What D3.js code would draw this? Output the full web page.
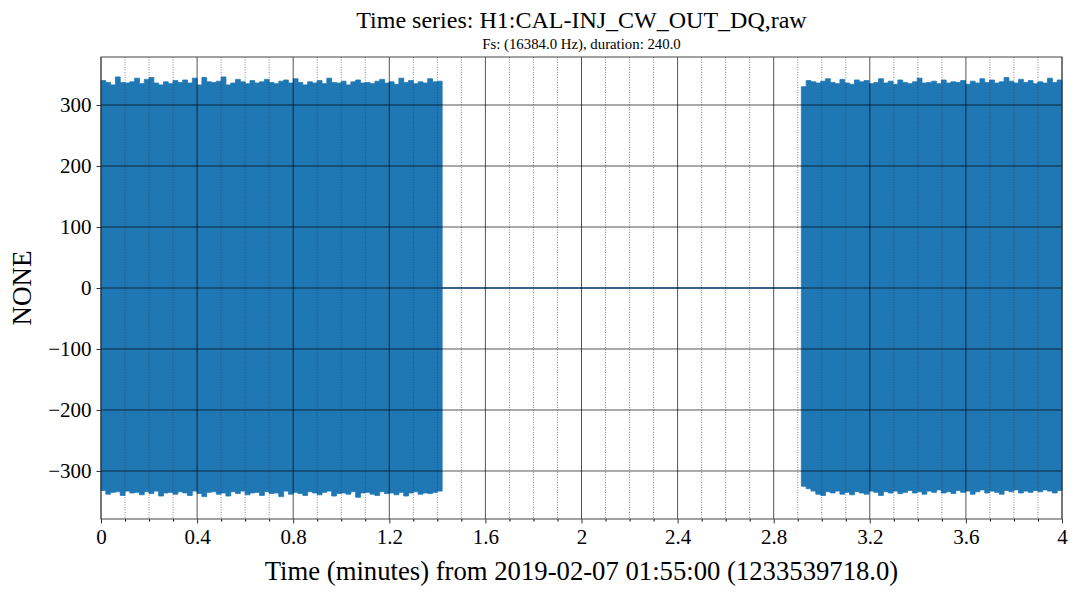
<!DOCTYPE html>
<html><head><meta charset="utf-8">
<script src="https://cdn.jsdelivr.net/npm/d3@7"></script>
<style>body{margin:0;background:#fff}svg{display:block}text{font-family:"Liberation Serif","DejaVu Serif",serif;fill:#000}</style>
</head><body><svg id="c" width="1077" height="594"></svg>
<script>
const titleText = "Time series: H1:CAL-INJ_CW_OUT_DQ,raw";
const subtitleText = "Fs: (16384.0 Hz), duration: 240.0";
const xLabelText = "Time (minutes) from 2019-02-07 01:55:00 (1233539718.0)";
const yLabelText = "NONE";
const xTicks = [0,0.4,0.8,1.2,1.6,2,2.4,2.8,3.2,3.6,4];
const xTickLabels = ["0","0.4","0.8","1.2","1.6","2","2.4","2.8","3.2","3.6","4"];
const xMinorTicks = [0.1,0.2,0.3,0.5,0.6,0.7,0.9,1.0,1.1,1.3,1.4,1.5,1.7,1.8,1.9,2.1,2.2,2.3,2.5,2.6,2.7,2.9,3.0,3.1,3.3,3.4,3.5,3.7,3.8,3.9];
const yTicks = [-300,-200,-100,0,100,200,300];
const yTickLabels = ["\u2212300","\u2212200","\u2212100","0","100","200","300"];
const xDomain = [0,4];
const yDomain = [-378.7,378.7];
// segments (minutes)
const seg1 = [0, 1.42];
const seg2 = [2.915, 4.0];
const gapValue = 0;
const seg1Upper = [340,337,333,346,337,336,338,344,335,342,345,336,333,338,335,340,337,341,336,344,333,345,338,337,339,346,333,336,342,338,335,340,336,338,342,337,335,339,341,336,343,337,333,338,336,340,335,344,337,336,339,333,338,341,336,337,335,339,342,336,338,334,344,337,340,335,338,336,343,338,339,330];
const seg1Lower = [-332,-338,-335,-334,-340,-333,-336,-335,-339,-334,-337,-333,-341,-336,-335,-338,-334,-336,-340,-333,-337,-342,-335,-334,-338,-336,-341,-334,-337,-333,-339,-336,-335,-340,-334,-337,-336,-342,-333,-338,-335,-337,-340,-334,-336,-339,-335,-333,-341,-337,-336,-338,-334,-343,-336,-335,-338,-340,-334,-337,-336,-339,-335,-341,-336,-334,-338,-336,-337,-335,-333,-328];
const seg2Upper = [330,340,338,336,339,343,337,335,342,336,334,341,338,340,335,337,343,336,339,334,341,337,335,338,344,336,337,339,335,341,336,338,337,340,334,339,336,343,337,341,336,338,345,339,336,342,337,340,335,338,336,344,337,341,338];
const seg2Lower = [-325,-329,-333,-338,-340,-334,-336,-333,-338,-335,-339,-334,-336,-338,-333,-335,-340,-334,-336,-333,-337,-335,-332,-336,-334,-338,-333,-335,-331,-336,-334,-337,-332,-335,-333,-338,-334,-331,-336,-333,-335,-338,-332,-334,-331,-336,-333,-335,-332,-334,-331,-333,-336,-332,-330];

const L=101,R=1062,T=57,B=519;
const svg=d3.select("#c");
const x=d3.scaleLinear().domain(xDomain).range([L,R]);
const y=d3.scaleLinear().domain(yDomain).range([B,T]);
const blue="#1f77b4";

function segData(seg, up, lo){
  const n=up.length, dt=(seg[1]-seg[0])/(n-1);
  return up.map((u,i)=>({t:seg[0]+i*dt,u:u,l:lo[i]}));
}
const area=d3.area().x(d=>x(d.t)).y0(d=>y(d.l)).y1(d=>y(d.u)).curve(d3.curveStepAfter);
const g=svg.append("g");
[[seg1,seg1Upper,seg1Lower],[seg2,seg2Upper,seg2Lower]].forEach(([s,u,l])=>{
  g.append("path").datum(segData(s,u,l)).attr("d",area).attr("fill",blue).attr("stroke",blue).attr("stroke-width",0.8);
});
g.append("path").datum([seg1[1],seg2[0]]).attr("d",d3.line().x(d=>x(d)).y(()=>y(gapValue))).attr("stroke",blue).attr("stroke-width",1.6).attr("fill","none");

// grid on top
const grid=svg.append("g");
grid.selectAll(".mx").data(xMinorTicks).join("line").attr("x1",d=>x(d)).attr("x2",d=>x(d)).attr("y1",T).attr("y2",B)
  .attr("stroke","#333").attr("stroke-width",0.7).attr("stroke-dasharray","1,1.5").attr("stroke-opacity",0.85);
grid.selectAll(".Mx").data(xTicks).join("line").attr("x1",d=>x(d)).attr("x2",d=>x(d)).attr("y1",T).attr("y2",B)
  .attr("stroke","#000").attr("stroke-width",0.8).attr("stroke-opacity",0.85);
grid.selectAll(".My").data(yTicks).join("line").attr("y1",d=>y(d)).attr("y2",d=>y(d)).attr("x1",L).attr("x2",R)
  .attr("stroke","#000").attr("stroke-width",0.8).attr("stroke-opacity",0.85);

// axes
const xAxis=d3.axisBottom(x).tickValues(xTicks).tickFormat((d,i)=>xTickLabels[i]).tickSize(4.5).tickPadding(6).tickSizeOuter(0);
const xMinorAxis=d3.axisBottom(x).tickValues(xMinorTicks).tickFormat("").tickSize(2.5).tickSizeOuter(0);
const yAxis=d3.axisLeft(y).tickValues(yTicks).tickFormat((d,i)=>yTickLabels[i]).tickSize(4.5).tickPadding(5).tickSizeOuter(0);
const ax=svg.append("g").attr("transform",`translate(0,${B})`).call(xAxis);
svg.append("g").attr("transform",`translate(0,${B})`).call(xMinorAxis).select(".domain").remove();
const ay=svg.append("g").attr("transform",`translate(${L},0)`).call(yAxis);
[ax,ay].forEach(a=>{a.select(".domain").remove();a.selectAll("line").attr("stroke","#000").attr("stroke-width",0.8);
  a.selectAll("text").style("font-family",'"Liberation Serif",serif').style("font-size","21px").attr("fill","#000");});
svg.append("rect").attr("x",L).attr("y",T).attr("width",R-L).attr("height",B-T).attr("fill","none").attr("stroke","#444").attr("stroke-width",1);

svg.append("text").attr("x",(L+R)/2).attr("y",28).attr("text-anchor","middle").style("font-size","24px").text(titleText);
svg.append("text").attr("x",(L+R)/2).attr("y",49).attr("text-anchor","middle").style("font-size","14.8px").text(subtitleText);
svg.append("text").attr("x",(L+R)/2).attr("y",580).attr("text-anchor","middle").style("font-size","26.7px").text(xLabelText);
svg.append("text").attr("transform",`translate(31,${(T+B)/2}) rotate(-90)`).attr("text-anchor","middle").style("font-size","27px").text(yLabelText);
</script></body></html>
